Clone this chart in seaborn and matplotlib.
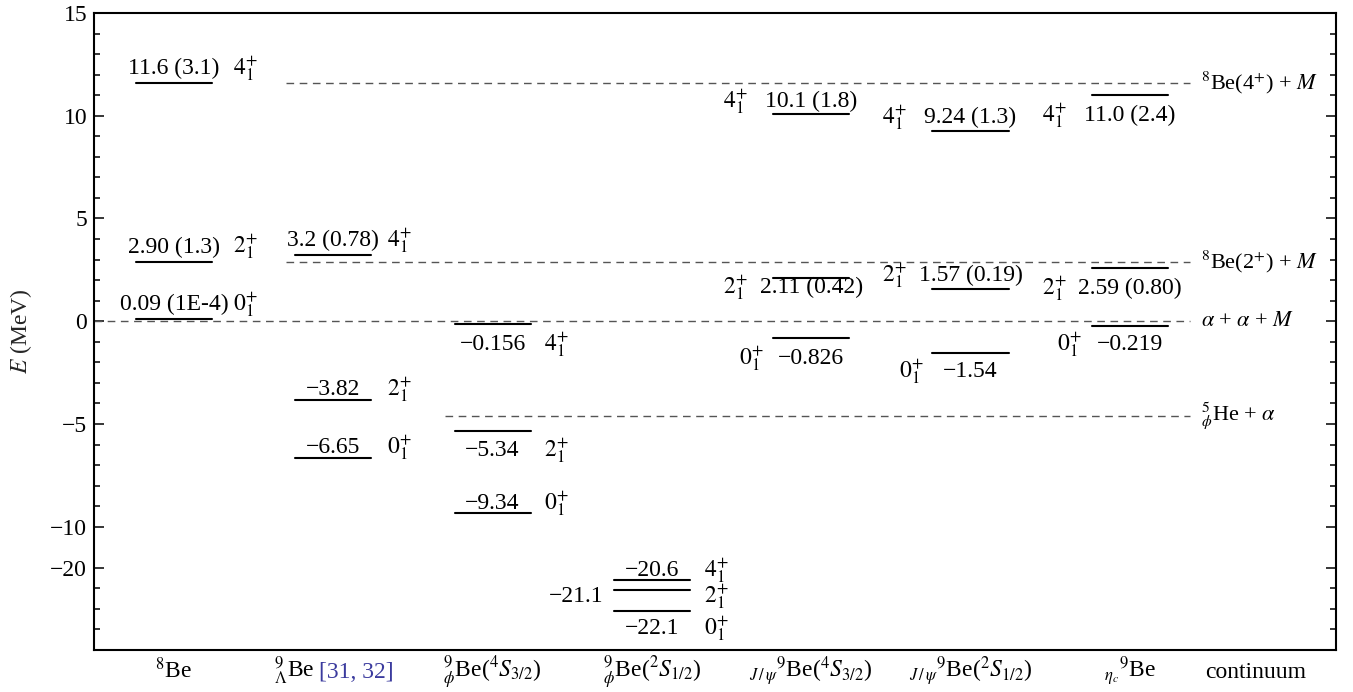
import numpy as np
import pandas as pd
import matplotlib
matplotlib.use("Agg")
import matplotlib.pyplot as plt
import matplotlib.transforms as mtransforms
import seaborn as sns

# column labels (x axis)
columns = [
    r"$^{8}$Be",
    r"${}^{9}_{\Lambda}$Be",
    r"${}^{9}_{\phi}$Be($^{4}S_{3/2}$)",
    r"${}^{9}_{\phi}$Be($^{2}S_{1/2}$)",
    r"${}_{J\,/\,\psi}{}^{9}$Be($^{4}S_{3/2}$)",
    r"${}_{J\,/\,\psi}{}^{9}$Be($^{2}S_{1/2}$)",
    r"${}_{\eta_c}{}^{9}$Be",
    "continuum",
]
ref_text = "[31, 32]"

# levels: column index, energy (MeV), printed value, spin
level_col = [0, 0, 0, 1, 1, 1, 2, 2, 2, 3, 3, 3, 4, 4, 4, 5, 5, 5, 6, 6, 6]
level_E = [11.6, 2.90, 0.09, 3.2, -3.82, -6.65, -0.156, -5.34, -9.34,
           -20.6, -21.1, -22.1, 10.1, 2.11, -0.826, 9.24, 1.57, -1.54,
           11.0, 2.59, -0.219]
level_text = ["11.6 (3.1)", "2.90 (1.3)", "0.09 (1E-4)",
              "3.2 (0.78)", "\u22123.82", "\u22126.65",
              "\u22120.156", "\u22125.34", "\u22129.34",
              "\u221220.6", "\u221221.1", "\u221222.1",
              "10.1 (1.8)", "2.11 (0.42)", "\u22120.826",
              "9.24 (1.3)", "1.57 (0.19)", "\u22121.54",
              "11.0 (2.4)", "2.59 (0.80)", "\u22120.219"]
level_J = [4, 2, 0, 4, 2, 0, 4, 2, 0, 4, 2, 0, 4, 2, 0, 4, 2, 0, 4, 2, 0]

# thresholds
thr_E = [11.6, 2.9, 0.0, -4.6]
thr_label = [r"$^{8}$Be(4$^{+}$) + $M$", r"$^{8}$Be(2$^{+}$) + $M$",
             r"$\alpha$ + $\alpha$ + $M$", r"${}^{5}_{\phi}$He + $\alpha$"]

# label layout (pixels relative to the level line centre)
label_dy_px = [9, 9, 9, 9, 5, 5, -26, -25, 4, 4, -12, -23,
               7, -15, -26, 8, 8, -24, -26, -26, -24]
spin_dx_px = [59, 59, 59, 54, 54, 54, 51, 51, 51, 52, 52, 52,
              -64, -64, -48, -64, -64, -47, -63, -63, -48]
thr_x0 = [0.703, 0.703, -0.502, 1.701]
half_w = 0.239

PT = 72 / 100.0  # px -> pt at dpi 100


def fwd(e):
    e = np.asarray(e, dtype=float)
    return np.where(e >= -10, e, np.where(e <= -20, e + 8, -10 + (e + 10) * 0.2))


def inv(d):
    d = np.asarray(d, dtype=float)
    return np.where(d >= -10, d, np.where(d <= -12, d - 8, -10 + (d + 10) * 5.0))


sns.set_theme(style="ticks")
plt.rcParams["font.family"] = ["Liberation Serif", "DejaVu Serif"]
plt.rcParams["mathtext.fontset"] = "stix"
plt.rcParams["axes.edgecolor"] = "black"
plt.rcParams["text.color"] = "black"
plt.rcParams["xtick.color"] = "black"
plt.rcParams["ytick.color"] = "black"

FS = 17

fig = plt.figure(figsize=(13.53, 6.92), dpi=100)
ax = fig.add_axes([94 / 1353, 42 / 692, 1242 / 1353, 637 / 692])
ax.set_yscale("function", functions=(fwd, inv))

# level segments
rows = []
for i, (c, e) in enumerate(zip(level_col, level_E)):
    rows.append({"x": c - half_w, "E": e, "level": i})
    rows.append({"x": c + half_w, "E": e, "level": i})
seg = pd.DataFrame(rows)
sns.lineplot(data=seg, x="x", y="E", units="level", estimator=None, sort=False,
             color="black", lw=1.5, legend=False, ax=ax)

# thresholds
ax.hlines(thr_E, thr_x0, 6.378, colors="#555555", linestyles=(0, (5.5, 4)), lw=1.0)
for e, t in zip(thr_E, thr_label):
    ax.annotate(t, xy=(6.447, e), xytext=(0, 0), textcoords="offset points",
                ha="left", va="center", fontsize=FS - 1)

# level labels
for i, (c, e) in enumerate(zip(level_col, level_E)):
    dy = label_dy_px[i] * PT
    if level_text[i] == "\u221221.1":
        ax.annotate(level_text[i], xy=(c, e), xytext=(-48 * PT, dy),
                    textcoords="offset points", ha="right", va="baseline", fontsize=FS)
    else:
        ax.annotate(level_text[i], xy=(c, e), xytext=(0, dy),
                    textcoords="offset points", ha="center", va="baseline", fontsize=FS)
    sdx = spin_dx_px[i]
    ax.annotate(r"$%d^{+}_{1}$" % level_J[i], xy=(c, e), xytext=(sdx * PT, dy),
                textcoords="offset points", ha="left" if sdx > 0 else "right",
                va="baseline", fontsize=FS)

# axes
ax.set_xlim(-0.502, 7.294)
ax.set_ylim(-24, 15)
ax.set_xticks([])
ax.set_xlabel("")
yt = [15, 10, 5, 0, -5, -10, -20]
ax.set_yticks(yt, labels=[str(v).replace("-", "\u2212") for v in yt])
minor = [v for v in list(range(-23, -20)) + list(range(-9, 15)) if v % 5 != 0]
ax.set_yticks(minor, minor=True)
ax.tick_params(axis="y", which="both", direction="in", left=True, right=True,
               labelsize=FS, width=1.1, pad=5)
ax.tick_params(axis="y", which="major", length=7.2)
ax.tick_params(axis="y", which="minor", length=4)
for s in ax.spines.values():
    s.set_linewidth(1.5)
    s.set_color("black")

ax.set_ylabel(r"$E$ (MeV)", fontsize=FS)
ax.yaxis.set_label_coords(-0.048, 0.5)

# column labels below the axes
trans = mtransforms.blended_transform_factory(ax.transData, ax.transAxes)
col_x = [0, 1, 2, 3, 4, 5, 6, 6.79]
for i, lab in enumerate(columns):
    if i == 1:
        ax.annotate(lab, xy=(col_x[i], 0), xycoords=trans, xytext=(-19 * PT, -28 * PT),
                    textcoords="offset points", ha="right", va="baseline", fontsize=FS)
        ax.annotate(ref_text, xy=(col_x[i], 0), xycoords=trans, xytext=(-14 * PT, -28 * PT),
                    textcoords="offset points", ha="left", va="baseline", fontsize=FS,
                    color="#3b3b9e")
    else:
        ax.annotate(lab, xy=(col_x[i], 0), xycoords=trans, xytext=(0, -28 * PT),
                    textcoords="offset points", ha="center", va="baseline", fontsize=FS)

fig.savefig("out.png", dpi=100)
